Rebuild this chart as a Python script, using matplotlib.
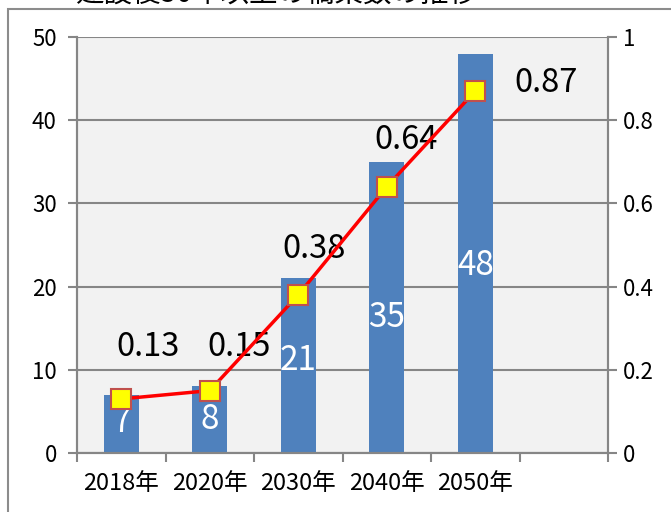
import matplotlib.pyplot as plt
from matplotlib.patches import Rectangle
import numpy as np

plt.rcParams['font.family'] = ['Noto Sans CJK JP', 'DejaVu Sans']

# data
years = ['2018年', '2020年', '2030年', '2040年', '2050年', '']
bridges = [7, 8, 21, 35, 48]
ratio = [0.13, 0.15, 0.38, 0.64, 0.87]
title = '建設後50年以上の橋梁数の推移'

# label offsets (pixels) for the ratio labels and bar labels
lab_dx = [27, 29, 16, 19, 71]
lab_dy = [52, 44, 46, 47, 8]
bar_dy = [1, 0, 5, -10, -12]

W, H = 671, 512
fig = plt.figure(figsize=(W / 100, H / 100), dpi=100)

# outer chart border
fig.patches.append(Rectangle((8 / W, -0.1), 1.1, 1 - 9 / H + 0.1, transform=fig.transFigure,
                             fill=False, edgecolor='#8c8c8c', linewidth=1.5))
fig.text(75 / W, 1 - 1.5 / H, title, fontsize=20.5, ha='left', va='baseline', color='black')

gray = '#868686'
ax = fig.add_axes([77 / W, 1 - 453 / H, (608 - 77) / W, (453 - 37) / H])
ax.set_facecolor('#f2f2f2')
x = np.arange(len(bridges))
bars = ax.bar(x, bridges, width=0.4, color='#4f81bd', zorder=2)
for xi, v, dy in zip(x, bridges, bar_dy):
    ax.annotate(str(v), (xi, v / 2), xytext=(0, dy * 0.72), textcoords='offset points',
                color='white', fontsize=24, ha='center', va='center', zorder=3)

ax.set_xlim(-0.5, 5.5)
ax.set_ylim(0, 50)
ax.set_yticks(range(0, 51, 10))
ax.yaxis.grid(True, color=gray, linewidth=1.5, zorder=1)
ax.set_xticks(range(len(years)))
ax.set_xticklabels(years, fontsize=17)
ax.set_xticks(np.arange(-0.5, 6, 1), minor=True)
ax.tick_params(axis='x', which='major', length=0, pad=14)
ax.tick_params(axis='x', which='minor', length=6.5, width=1.5, color=gray)
ax.tick_params(axis='y', length=6.5, width=1.5, color=gray, labelsize=16, pad=8)
for s in ['left', 'right', 'bottom']:
    ax.spines[s].set_color(gray)
    ax.spines[s].set_linewidth(1.5)
ax.spines['top'].set_visible(False)

ax2 = ax.twinx()
ax2.set_ylim(0, 1)
ax2.set_yticks([0, 0.2, 0.4, 0.6, 0.8, 1])
ax2.set_yticklabels(['0', '0.2', '0.4', '0.6', '0.8', '1'])
ax2.tick_params(axis='y', length=6.5, width=1.5, color=gray, labelsize=16, pad=4)
for s in ['left', 'right', 'bottom']:
    ax2.spines[s].set_color(gray)
    ax2.spines[s].set_linewidth(1.5)
ax2.spines['top'].set_visible(False)
ax2.plot(x, ratio, color='red', linewidth=2.5, marker='s', markersize=15,
         markerfacecolor='yellow', markeredgecolor='#c0504d', markeredgewidth=1.5, zorder=4)
for xi, v, dx, dy in zip(x, ratio, lab_dx, lab_dy):
    ax2.annotate(f'{v:.2f}', (xi, v), xytext=(dx * 0.72, dy * 0.72), textcoords='offset points',
                 fontsize=23.5, ha='center', va='center', color='black')

fig.savefig('out.png', dpi=100)
